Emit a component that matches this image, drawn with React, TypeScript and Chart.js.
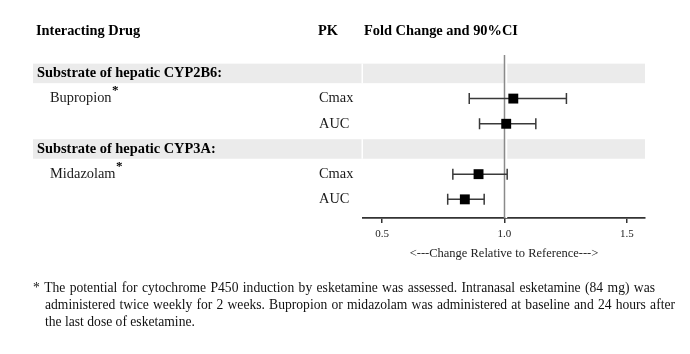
import React, { useEffect, useRef } from "react";
import { Chart, registerables } from "chart.js";

Chart.register(...registerables);

const headers = ["Interacting Drug", "PK", "Fold Change and 90%CI"];
const groupLabels = ["Substrate of hepatic CYP2B6:", "Substrate of hepatic CYP3A:"];
const drugNames = ["Bupropion", "Midazolam"];
const pkParams = ["Cmax", "AUC", "Cmax", "AUC"];
const foldChange = [1.036, 1.007, 0.894, 0.838];
const ciLower = [0.856, 0.898, 0.789, 0.768];
const ciUpper = [1.253, 1.128, 1.011, 0.917];
const xTicks = [0.5, 1.0, 1.5];
const referenceValue = 1.0;
const xAxisTitle = "<---Change Relative to Reference--->";
const footnoteLines = [
  "* The potential for cytochrome P450 induction by esketamine was assessed. Intranasal  esketamine (84 mg) was",
  "administered twice weekly for 2 weeks. Bupropion  or midazolam was administered at baseline and 24 hours after",
  "the last dose of esketamine.",
];

const SERIF = "'Liberation Serif', 'Times New Roman', serif";

// each group: one header row followed by its PK rows
const rowOfPoint = (i: number) => Math.floor(i / 2) * 3 + 1 + (i % 2);

function drawJustified(ctx: CanvasRenderingContext2D, text: string, x: number, y: number, width: number) {
  const words = text.split(/\s+/);
  const total = words.reduce((s, w) => s + ctx.measureText(w).width, 0);
  const gap = (width - total) / (words.length - 1);
  let cx = x;
  words.forEach((w) => {
    ctx.fillText(w, cx, y);
    cx += ctx.measureText(w).width + gap;
  });
}

const forestPlugin = {
  id: "forest",
  beforeDatasetsDraw(chart: any) {
    const { ctx, chartArea, scales } = chart;
    const x = scales.x;
    const y = scales.y;
    ctx.save();
    // grey group bands
    groupLabels.forEach((_, g) => {
      const yc = y.getPixelForValue(g * 3);
      const h = 19.5;
      ctx.fillStyle = "#ebebeb";
      ctx.fillRect(33, yc - h / 2, chartArea.right - 33, h);
      ctx.fillStyle = "#ffffff";
      ctx.fillRect(chartArea.left - 1.5, yc - h / 2, 1.5, h);
    });
    // reference line
    const xr = x.getPixelForValue(referenceValue);
    ctx.fillStyle = "#ffffff";
    ctx.fillRect(xr + 0.75, chartArea.top, 2, chartArea.bottom - chartArea.top);
    ctx.strokeStyle = "#8a8a8a";
    ctx.lineWidth = 1.5;
    ctx.beginPath();
    ctx.moveTo(xr, chartArea.top);
    ctx.lineTo(xr, chartArea.bottom);
    ctx.stroke();
    // confidence intervals
    ctx.strokeStyle = "#3a3a3a";
    ctx.lineWidth = 1.5;
    foldChange.forEach((_, i) => {
      const yp = y.getPixelForValue(rowOfPoint(i));
      const x0 = x.getPixelForValue(ciLower[i]);
      const x1 = x.getPixelForValue(ciUpper[i]);
      ctx.beginPath();
      ctx.moveTo(x0, yp);
      ctx.lineTo(x1, yp);
      ctx.moveTo(x0, yp - 5.5);
      ctx.lineTo(x0, yp + 5.5);
      ctx.moveTo(x1, yp - 5.5);
      ctx.lineTo(x1, yp + 5.5);
      ctx.stroke();
    });
    ctx.restore();
  },
  afterDraw(chart: any) {
    const { ctx, scales } = chart;
    const y = scales.y;
    ctx.save();
    ctx.textBaseline = "middle";
    ctx.textAlign = "left";
    // column headers
    ctx.fillStyle = "#000";
    ctx.font = `bold 14.4px ${SERIF}`;
    ctx.fillText(headers[0], 36, 31);
    ctx.fillText(headers[1], 318, 31);
    ctx.fillText(headers[2], 364, 31);
    // group labels
    groupLabels.forEach((g, gi) => {
      ctx.font = `bold 14.4px ${SERIF}`;
      ctx.fillStyle = "#000";
      ctx.fillText(g, 37, y.getPixelForValue(gi * 3));
      ctx.font = `14.4px ${SERIF}`;
      ctx.fillStyle = "#1a1a1a";
      const yd = y.getPixelForValue(gi * 3 + 1);
      ctx.fillText(drugNames[gi], 50, yd);
      const w = ctx.measureText(drugNames[gi]).width;
      ctx.font = `bold 13px ${SERIF}`;
      ctx.fillStyle = "#000";
      ctx.fillText("*", 50 + w + 0.5, yd - 8);
    });
    // PK labels
    ctx.font = `14.4px ${SERIF}`;
    ctx.fillStyle = "#1a1a1a";
    pkParams.forEach((p, i) => {
      ctx.fillText(p, 319, y.getPixelForValue(rowOfPoint(i)));
    });
    // footnote
    ctx.font = `13.6px ${SERIF}`;
    ctx.fillStyle = "#111";
    drawJustified(ctx, footnoteLines[0], 33, 288, 622);
    drawJustified(ctx, footnoteLines[1], 45, 305, 630);
    ctx.fillText(footnoteLines[2], 45, 322);
    ctx.restore();
  },
};

export default function App() {
  const canvasRef = useRef<HTMLCanvasElement | null>(null);

  useEffect(() => {
    if (!canvasRef.current) return;
    const chart = new Chart(canvasRef.current, {
      type: "scatter",
      data: {
        datasets: [
          {
            data: foldChange.map((v, i) => ({ x: v, y: rowOfPoint(i) })),
            pointStyle: "rect",
            pointRadius: 7,
            backgroundColor: "#000",
            borderColor: "#000",
            borderWidth: 0,
          },
        ],
      },
      options: {
        animation: false,
        responsive: false,
        layout: { padding: { left: 363, right: 45, top: 55, bottom: 93 } },
        plugins: { legend: { display: false }, tooltip: { enabled: false } },
        scales: {
          x: {
            type: "linear",
            min: 0.422,
            max: 1.574,
            afterBuildTicks: (s: any) => {
              s.ticks = xTicks.map((v) => ({ value: v }));
            },
            afterFit: (s: any) => {
              s.height = 43;
            },
            ticks: {
              callback: (v: any) => Number(v).toFixed(1),
              font: { family: SERIF, size: 11 },
              color: "#222",
              padding: 5,
              maxRotation: 0,
            },
            grid: {
              display: true,
              drawOnChartArea: false,
              drawTicks: true,
              tickLength: 5,
              color: "#333",
              lineWidth: 1.5,
            },
            border: { display: true, color: "#333", width: 1.8 },
            title: {
              display: true,
              text: xAxisTitle,
              font: { family: SERIF, size: 12.5 },
              color: "#222",
              padding: 0,
            },
          },
          y: { type: "linear", display: false, min: -0.73, max: 5.74, reverse: true },
        },
      },
      plugins: [forestPlugin],
    } as any);
    return () => chart.destroy();
  }, []);

  return (
    <div style={{ position: "fixed", left: 0, top: 0, width: 690, height: 354, background: "#fff" }}>
      <canvas ref={canvasRef} width={690} height={354} style={{ display: "block" }} />
    </div>
  );
}
